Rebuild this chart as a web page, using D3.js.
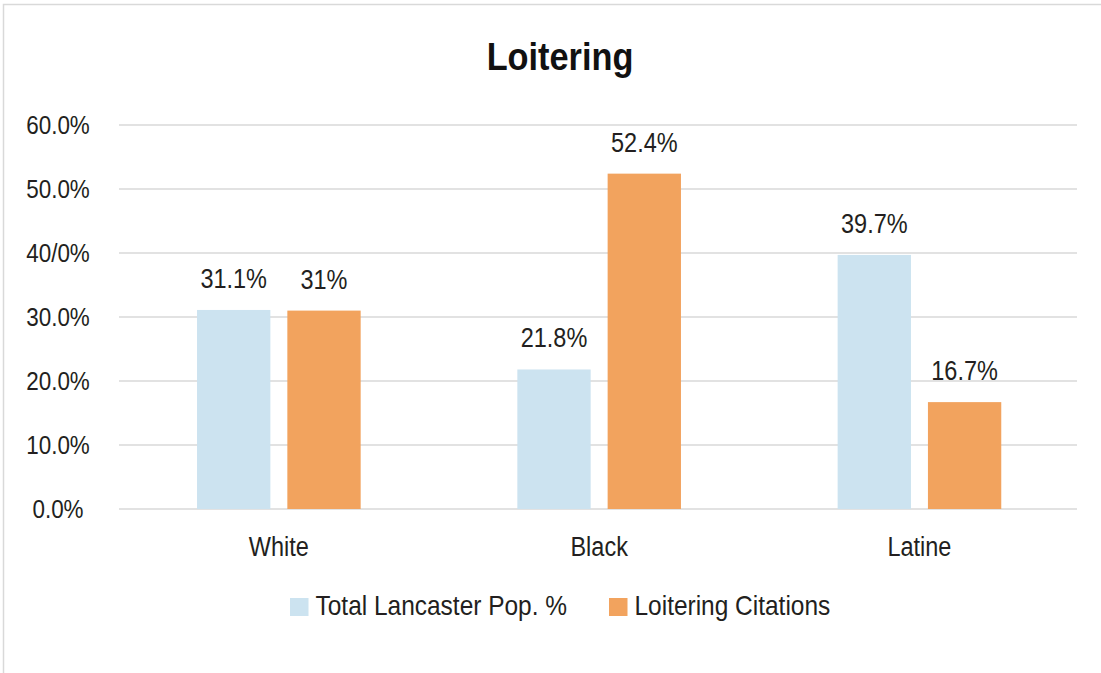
<!DOCTYPE html>
<html>
<head>
<meta charset="utf-8">
<script src="https://cdn.jsdelivr.net/npm/d3@7"></script>
<style>
  html, body { margin: 0; padding: 0; background: #fff; }
  svg { display: block; }
  text { font-family: "Liberation Sans Narrow", "Arial Narrow", "Liberation Sans", Arial, sans-serif; fill: #231f20; }
</style>
</head>
<body>
<script>
const title = "Loitering";
const categories = ["White", "Black", "Latine"];
const seriesNames = ["Total Lancaster Pop. %", "Loitering Citations"];
const popValues = [31.1, 21.8, 39.7];
const citationValues = [31.0, 52.4, 16.7];
const valueLabels = [["31.1%", "21.8%", "39.7%"], ["31%", "52.4%", "16.7%"]];
const tickValues = [0, 10, 20, 30, 40, 50, 60];
const tickLabels = ["0.0%", "10.0%", "20.0%", "30.0%", "40/0%", "50.0%", "60.0%"];
const colors = ["#cce3f0", "#f2a35e"];

const W = 1101, H = 673;
const SX = 0.87; // horizontal condensing of the sans font
const svg = d3.select("body").append("svg").attr("width", W).attr("height", H);
const place = (x, y, s = SX) => `translate(${x},${y}) scale(${s},1)`;

// frame
svg.append("rect").attr("x", 3.5).attr("y", 4.5).attr("width", W + 10).attr("height", H + 10)
  .attr("fill", "none").attr("stroke", "#d9d9d9").attr("stroke-width", 1.5);

const plotLeft = 118.7, plotRight = 1079.6, gridLeft = 119, gridRight = 1077;
const y = d3.scaleLinear().domain([0, 60]).range([509, 125]);
const x0 = d3.scaleBand().domain(categories).range([plotLeft, plotRight]).paddingInner(0).paddingOuter(0);
const x1 = d3.scaleBand().domain([0, 1]).range([0, x0.bandwidth()]).paddingInner(0.188).paddingOuter(0.8675);

// title
svg.append("text").attr("transform", place(560, 69.5, 0.88)).attr("text-anchor", "middle")
  .style("font-size", "39px").style("font-weight", "bold").style("fill", "#111").text(title);

// gridlines
svg.append("g").selectAll("line").data(tickValues).join("line")
  .attr("x1", gridLeft).attr("x2", gridRight)
  .attr("y1", d => y(d)).attr("y2", d => y(d))
  .attr("stroke", "#d9d9d9").attr("stroke-width", 1.3);

// y tick labels
svg.append("g").selectAll("text").data(tickValues).join("text")
  .attr("transform", d => place(58, y(d) + 0.35 * 25.5, 0.88)).attr("text-anchor", "middle")
  .style("font-size", "25.5px")
  .text((d, i) => tickLabels[i]);

const series = [popValues, citationValues];
const groups = svg.append("g").selectAll("g").data(series).join("g");
groups.selectAll("rect").data((vals, si) => vals.map((v, ci) => ({v, ci, si}))).join("rect")
  .attr("x", d => x0(categories[d.ci]) + x1(d.si))
  .attr("width", x1.bandwidth())
  .attr("y", d => y(d.v))
  .attr("height", d => y(0) - y(d.v))
  .attr("fill", d => colors[d.si]);

groups.selectAll("text").data((vals, si) => vals.map((v, ci) => ({v, ci, si}))).join("text")
  .attr("transform", d => place(x0(categories[d.ci]) + x1(d.si) + x1.bandwidth() / 2, y(d.v) - 22))
  .attr("text-anchor", "middle")
  .style("font-size", "27px")
  .text(d => valueLabels[d.si][d.ci]);

// category labels
svg.append("g").selectAll("text").data(categories).join("text")
  .attr("transform", d => place(x0(d) + x0.bandwidth() / 2, 556))
  .attr("text-anchor", "middle").style("font-size", "27px").text(d => d);

// legend
const legendX = [290, 609];
const lg = svg.append("g").selectAll("g").data(seriesNames).join("g")
  .attr("transform", (d, i) => `translate(${legendX[i]},598)`);
lg.append("rect").attr("width", 18.5).attr("height", 18).attr("fill", (d, i) => colors[i]);
lg.append("text").attr("transform", place(25.5, 17, 0.89)).style("font-size", "27.5px").text(d => d);
</script>
</body>
</html>
